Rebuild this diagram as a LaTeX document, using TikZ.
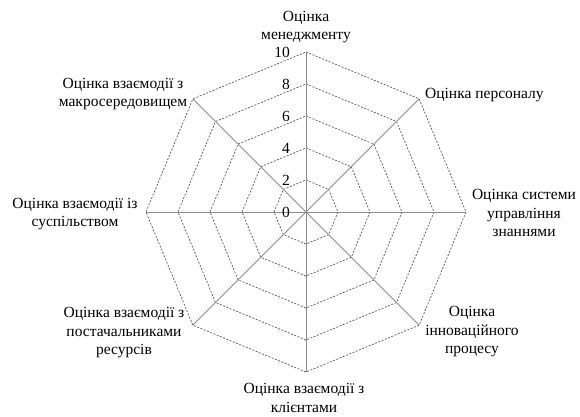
\documentclass[tikz,border=0pt]{standalone}
\usepackage{fontspec}
\setmainfont{Liberation Serif}

\begin{document}
\begin{tikzpicture}[x=1pt, y=1pt,
  axis/.style={draw=gray!90, line width=0.8pt},
  ring/.style={draw=black!65, dash pattern=on 2pt off 1.5pt, line width=0.7pt},
  lbl/.style={align=center, inner sep=0pt, font=\fontsize{15.5}{18.5}\selectfont},
  tick/.style={anchor=east, inner sep=0pt, font=\fontsize{15.5}{18}\selectfont}]

\useasboundingbox (-306,-204) rectangle (274,212);

% Centre and axis ends
\coordinate (c) at (0,0);
\foreach \i in {0,...,7} \coordinate (v\i) at ({90-45*\i}:160);

% Grid rings
\foreach \r in {1,...,5}
  \draw[ring] (90:{32*\r}) \foreach \k in {1,...,7} {-- ({90-45*\k}:{32*\r})} -- cycle;

% Axes
\foreach \i in {0,...,7} \draw[axis] (c) -- (v\i);

% Scale values
\foreach \v/\r in {0/0, 2/32, 4/64, 6/96, 8/128, 10/160}
  \node[tick] (n\v) at (-16,\r) {\v};

% Axis labels
\node[lbl] (mgmt) at (0,185) {Оцінка\\менеджменту};
\node[lbl, anchor=west] (staff) at (119,117) {Оцінка персоналу};
\node[lbl] (know) at (218,-1) {Оцінка системи\\управління\\знаннями};
\node[lbl] (innov) at (166,-120) {Оцінка\\інноваційного\\процесу};
\node[lbl] (client) at (-2,-186) {Оцінка взаємодії з\\клієнтами};
\node[lbl] (suppl) at (-182,-121) {Оцінка взаємодії з\\постачальниками\\ресурсів};
\node[lbl] (soc) at (-231,-2) {Оцінка взаємодії із\\суспільством};
\node[lbl] (macro) at (-183,118) {Оцінка взаємодії з\\макросередовищем};

\end{tikzpicture}
\end{document}
